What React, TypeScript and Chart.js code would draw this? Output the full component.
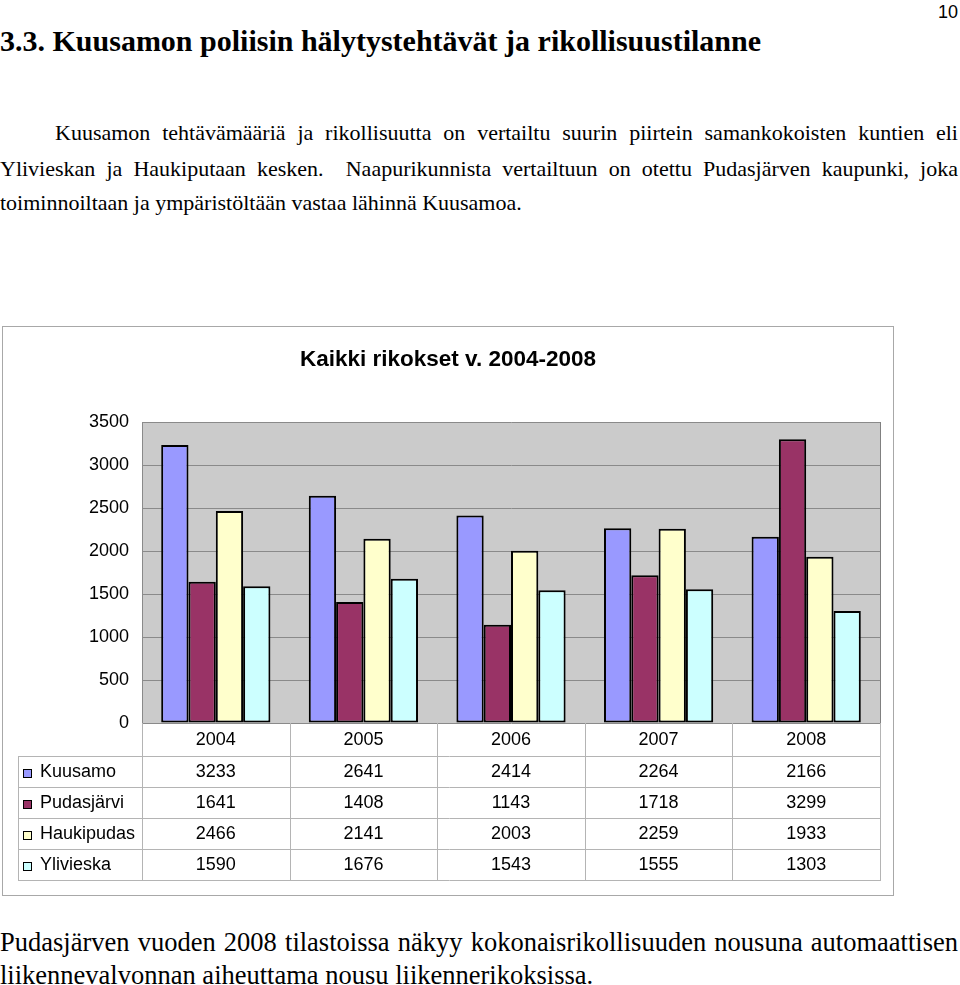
import React, { useEffect, useRef } from "react";
import { Chart, registerables } from "chart.js";

Chart.register(...registerables);

const categories = ["2004", "2005", "2006", "2007", "2008"];
const seriesNames = ["Kuusamo", "Pudasjärvi", "Haukipudas", "Ylivieska"];
const kuusamo = [3233, 2641, 2414, 2264, 2166];
const pudasjarvi = [1641, 1408, 1143, 1718, 3299];
const haukipudas = [2466, 2141, 2003, 2259, 1933];
const ylivieska = [1590, 1676, 1543, 1555, 1303];
const seriesColors = ["#9999FF", "#993366", "#FFFFCC", "#CCFFFF"];
const yTicks = [0, 500, 1000, 1500, 2000, 2500, 3000, 3500];
const chartTitle = "Kaikki rikokset v. 2004-2008";

const SANS = "'Liberation Sans', Arial, Helvetica, sans-serif";
const SERIF = "'Liberation Serif', 'Times New Roman', Times, serif";

const HEADER_H = 33;
const ROW_H = 31;

const plotBackground = {
  id: "plotBackground",
  beforeDraw(chart: any) {
    const { ctx, chartArea: ca } = chart;
    ctx.save();
    ctx.fillStyle = "#CBCBCB";
    ctx.fillRect(ca.left, ca.top, ca.right - ca.left, ca.bottom - ca.top);
    ctx.restore();
  },
  afterDatasetsDraw(chart: any) {
    const { ctx, chartArea: ca } = chart;
    ctx.save();
    ctx.strokeStyle = "#808080";
    ctx.lineWidth = 1;
    ctx.beginPath();
    ctx.moveTo(Math.round(ca.right) + 0.5, ca.top);
    ctx.lineTo(Math.round(ca.right) + 0.5, ca.bottom);
    ctx.stroke();
    ctx.restore();
  },
};

const dataTable = {
  id: "dataTable",
  afterDraw(chart: any) {
    const { ctx, chartArea: ca } = chart;
    const xs = chart.scales.x;
    const n = categories.length;
    const colW = (ca.right - ca.left) / n;
    const top = Math.round(ca.bottom);
    const headerBot = top + HEADER_H;
    const bottom = headerBot + ROW_H * seriesNames.length;
    const legendLeft = 15;
    ctx.save();
    ctx.strokeStyle = "#B4B4B4";
    ctx.lineWidth = 1;
    ctx.beginPath();
    for (let i = 0; i <= n; i++) {
      const x = Math.round(ca.left + i * colW) + 0.5;
      ctx.moveTo(x, top);
      ctx.lineTo(x, bottom);
    }
    ctx.moveTo(legendLeft + 0.5, headerBot);
    ctx.lineTo(legendLeft + 0.5, bottom);
    for (let r = 0; r <= seriesNames.length; r++) {
      const y = headerBot + r * ROW_H + 0.5;
      ctx.moveTo(legendLeft, y);
      ctx.lineTo(Math.round(ca.right) + 1, y);
    }
    ctx.stroke();

    ctx.fillStyle = "#000";
    ctx.font = "18px " + SANS;
    ctx.textBaseline = "middle";
    ctx.textAlign = "center";
    categories.forEach((c, i) => {
      ctx.fillText(c, xs.getPixelForValue(i), top + HEADER_H / 2 + 1);
    });
    chart.data.datasets.forEach((ds: any, r: number) => {
      const cy = headerBot + r * ROW_H + ROW_H / 2 + 1;
      ctx.textAlign = "center";
      ds.data.forEach((v: number, i: number) => {
        ctx.fillStyle = "#000";
        ctx.fillText(String(v), xs.getPixelForValue(i), cy);
      });
      ctx.fillStyle = ds.backgroundColor;
      ctx.fillRect(20.5, Math.round(cy - 4) + 0.5, 8, 8);
      ctx.strokeStyle = "#000";
      ctx.strokeRect(20.5, Math.round(cy - 4) + 0.5, 8, 8);
      ctx.fillStyle = "#000";
      ctx.textAlign = "left";
      ctx.fillText(ds.label, 37, cy);
    });
    ctx.restore();
  },
};

function ChartBox() {
  const ref = useRef<HTMLCanvasElement | null>(null);
  useEffect(() => {
    if (!ref.current) return;
    const values = [kuusamo, pudasjarvi, haukipudas, ylivieska];
    const chart = new Chart(ref.current, {
      type: "bar",
      data: {
        labels: categories,
        datasets: seriesNames.map((name, i) => ({
          label: name,
          data: values[i],
          backgroundColor: seriesColors[i],
          borderColor: "#000",
          borderWidth: 2,
          borderSkipped: false,
          categoryPercentage: 0.74,
          barPercentage: 1.0,
        })),
      },
      options: {
        animation: false,
        responsive: false,
        devicePixelRatio: 1,
        layout: { padding: { left: 13, right: 13, top: 0, bottom: 172 } },
        plugins: {
          legend: { display: false },
          tooltip: { enabled: false },
          title: {
            display: true,
            text: chartTitle,
            color: "#000",
            font: { family: SANS, size: 22.5, weight: "bold" },
            padding: { top: 19, bottom: 49 },
          },
        },
        scales: {
          x: { display: false },
          y: {
            min: 0,
            max: 3500,
            afterBuildTicks: (scale: any) => {
              scale.ticks = yTicks.map((v) => ({ value: v }));
            },
            afterFit: (scale: any) => {
              scale.width = 126;
            },
            ticks: {
              color: "#000",
              font: { family: SANS, size: 18 },
              padding: 13,
              callback: (v: any) => String(v),
            },
            grid: { color: "#8A8A8A", drawTicks: false, lineWidth: 1 },
            border: { display: true, color: "#8A8A8A" },
          },
        },
      },
      plugins: [plotBackground, dataTable],
    } as any);
    return () => chart.destroy();
  }, []);
  return (
    <div
      style={{
        position: "absolute",
        left: 2,
        top: 326,
        width: 890,
        height: 568,
        border: "1px solid #A8A8A8",
      }}
    >
      <canvas ref={ref} width={890} height={568} style={{ width: 890, height: 568, display: "block" }} />
    </div>
  );
}

const lineStyle: React.CSSProperties = {
  position: "absolute",
  whiteSpace: "nowrap",
  lineHeight: 1,
  color: "#000",
};

export default function App() {
  return (
    <div style={{ position: "absolute", left: 0, top: 0, width: 960, height: 985, background: "#fff", overflow: "hidden" }}>
      <div style={{ ...lineStyle, right: 2, top: 3, fontFamily: SANS, fontSize: 18 }}>10</div>
      <div style={{ ...lineStyle, left: 0, top: 26, fontFamily: SERIF, fontSize: 30, fontWeight: "bold" }}>
        3.3. Kuusamon poliisin hälytystehtävät ja rikollisuustilanne
      </div>
      <div style={{ ...lineStyle, left: 55, width: 903, top: 122, fontFamily: SERIF, fontSize: 22, textAlign: "justify", textAlignLast: "justify" as any }}>
        Kuusamon tehtävämääriä ja rikollisuutta on vertailtu suurin piirtein samankokoisten kuntien eli
      </div>
      <div style={{ ...lineStyle, left: 0, width: 958, top: 158, fontFamily: SERIF, fontSize: 22, textAlign: "justify", textAlignLast: "justify" as any }}>
        Ylivieskan ja Haukiputaan kesken.&nbsp; Naapurikunnista vertailtuun on otettu Pudasjärven kaupunki, joka
      </div>
      <div style={{ ...lineStyle, left: 0, top: 192, fontFamily: SERIF, fontSize: 22 }}>
        toiminnoiltaan ja ympäristöltään vastaa lähinnä Kuusamoa.
      </div>
      <ChartBox />
      <div style={{ ...lineStyle, left: 0, width: 958, top: 929, fontFamily: SERIF, fontSize: 26.5, textAlign: "justify", textAlignLast: "justify" as any }}>
        Pudasjärven vuoden 2008 tilastoissa näkyy kokonaisrikollisuuden nousuna automaattisen
      </div>
      <div style={{ ...lineStyle, left: 0, top: 962, fontFamily: SERIF, fontSize: 26.5 }}>
        liikennevalvonnan aiheuttama nousu liikennerikoksissa.
      </div>
    </div>
  );
}
